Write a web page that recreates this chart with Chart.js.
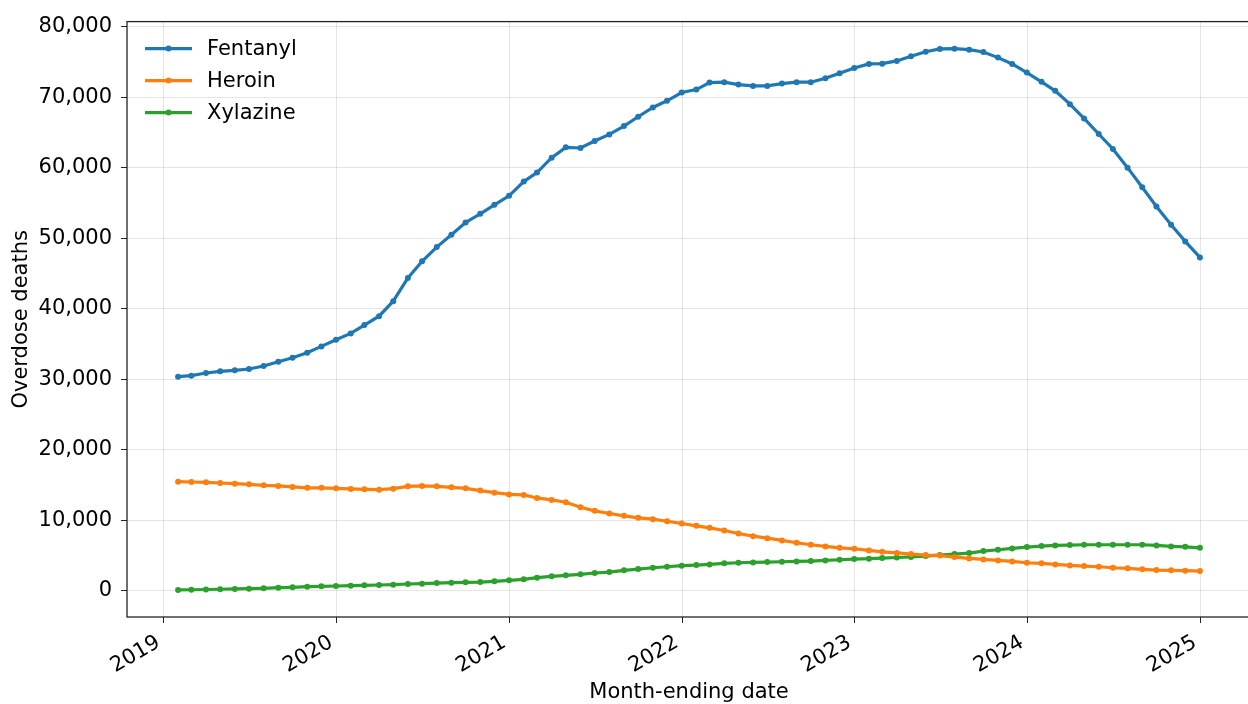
<!DOCTYPE html>
<html>
<head>
<meta charset="utf-8">
<script src="https://cdn.jsdelivr.net/npm/chart.js@4.4.1/dist/chart.umd.min.js"></script>
<style>
  html, body { margin: 0; padding: 0; background: #fff; overflow: hidden; }
  canvas { display: block; }
</style>
</head>
<body>
<canvas id="chart" width="1256" height="704"></canvas>
<script>
// monthly series, month-ending Jan 2019 .. Dec 2024
const firstYear = 2019;
const monthCount = 72;

const fentanyl = [
    30350, 30500, 30880, 31110, 31260, 31440, 31870, 32480, 33050, 33760, 34650, 35590,
    36490, 37670, 38940, 41060, 44360, 46720, 48740, 50490, 52230, 53460, 54740, 56010,
    58030, 59310, 61430, 62890, 62800, 63790, 64730, 65910, 67230, 68550, 69490, 70670,
    71090, 72080, 72130, 71800, 71600, 71600, 71940, 72130, 72130, 72700, 73400, 74150,
    74720, 74760, 75150, 75810, 76460, 76850, 76890, 76750, 76420, 75620, 74720, 73500,
    72180, 70910, 69020, 66990, 64780, 62660, 60010, 57230, 54500, 51910, 49550, 47280
];
const heroin = [
    15460, 15410, 15360, 15270, 15180, 15080, 14940, 14850, 14710, 14590, 14590, 14510,
    14430, 14370, 14330, 14470, 14800, 14850, 14800, 14660, 14510, 14190, 13900, 13650,
    13580, 13150, 12870, 12540, 11830, 11320, 10940, 10610, 10330, 10140, 9850, 9520,
    9190, 8910, 8530, 8110, 7730, 7450, 7120, 6790, 6510, 6270, 6080, 5940,
    5700, 5500, 5350, 5200, 5050, 4980, 4760, 4570, 4430, 4290, 4150, 3960,
    3870, 3720, 3580, 3490, 3390, 3250, 3160, 3020, 2920, 2880, 2830, 2780
];
const xylazine = [
    100, 130, 160, 200, 240, 280, 330, 420, 470, 560, 610, 660,
    710, 750, 800, 850, 940, 990, 1080, 1130, 1180, 1220, 1320, 1460,
    1600, 1840, 2030, 2170, 2310, 2500, 2640, 2880, 3060, 3250, 3390, 3540,
    3630, 3720, 3870, 3960, 4010, 4050, 4100, 4150, 4200, 4290, 4380, 4480,
    4530, 4620, 4700, 4780, 4900, 5050, 5190, 5330, 5610, 5800, 5990, 6180,
    6320, 6410, 6460, 6510, 6510, 6510, 6510, 6510, 6410, 6270, 6220, 6080
];

const seriesNames = ['Fentanyl', 'Heroin', 'Xylazine'];
const seriesColors = ['#1f77b4', '#ff7f0e', '#2ca02c'];
const yTicks = [0, 10000, 20000, 30000, 40000, 50000, 60000, 70000, 80000];
const yearTicks = [2019, 2020, 2021, 2022, 2023, 2024, 2025];

const DAY = 86400000;
const FONT = '"DejaVu Sans", Verdana, sans-serif';
const FONT_SIZE = 21;
const X_LABEL_ANGLE = 30 * Math.PI / 180;

// x values are days since epoch of each month end
const monthEnds = [];
for (let i = 0; i < monthCount; i++) {
    monthEnds.push(Date.UTC(firstYear, i + 1, 0) / DAY);
}

// matplotlib-like 5% margins
const xSpan = monthEnds[monthEnds.length - 1] - monthEnds[0];
const xMin = monthEnds[0] - xSpan * 0.05;
const xMax = monthEnds[monthEnds.length - 1] + xSpan * 0.05;
const allValues = fentanyl.concat(heroin, xylazine);
const yLo = Math.min(...allValues);
const yHi = Math.max(...allValues);
const yMin = yLo - (yHi - yLo) * 0.05;
const yMax = yHi + (yHi - yLo) * 0.05;

const seriesData = [fentanyl, heroin, xylazine];
const datasets = seriesData.map((values, i) => ({
    label: seriesNames[i],
    data: values.map((v, j) => ({ x: monthEnds[j], y: v })),
    borderColor: seriesColors[i],
    backgroundColor: seriesColors[i],
    pointBackgroundColor: seriesColors[i],
    borderWidth: 3.2,
    pointRadius: 3,
    pointBorderWidth: 0,
    tension: 0
}));

const frame = {
    id: 'frame',
    afterDraw(chart) {
        const { ctx, chartArea } = chart;
        ctx.save();
        ctx.strokeStyle = '#222';
        ctx.lineWidth = 1.3;
        ctx.strokeRect(chartArea.left, chartArea.top, chartArea.right - chartArea.left, chartArea.bottom - chartArea.top);
        ctx.restore();
    }
};

// rotated year labels, aligned like matplotlib (bbox right at tick, bbox top under tick mark)
const yearLabels = {
    id: 'yearLabels',
    afterDraw(chart) {
        const { ctx, chartArea } = chart;
        const xScale = chart.scales.x;
        const sin = Math.sin(X_LABEL_ANGLE), cos = Math.cos(X_LABEL_ANGLE);
        const boxH = FONT_SIZE * 1.164;
        const descent = FONT_SIZE * 0.236;
        const top = chartArea.bottom + 12;
        ctx.save();
        ctx.fillStyle = '#000';
        ctx.font = FONT_SIZE + 'px ' + FONT;
        ctx.textAlign = 'right';
        ctx.textBaseline = 'alphabetic';
        yearTicks.forEach(year => {
            const px = xScale.getPixelForValue(Date.UTC(year, 0, 1) / DAY);
            const bx = px - descent * sin;
            const by = top + boxH * cos - descent * cos;
            ctx.save();
            ctx.translate(bx, by);
            ctx.rotate(-X_LABEL_ANGLE);
            ctx.fillText(String(year), 0, 0);
            ctx.restore();
        });
        ctx.restore();
    }
};

const insideLegend = {
    id: 'insideLegend',
    afterDatasetsDraw(chart) {
        const { ctx, chartArea } = chart;
        ctx.save();
        chart.data.datasets.forEach((ds, i) => {
            const y = chartArea.top + 27 + i * 32;
            const x0 = chartArea.left + 18;
            ctx.strokeStyle = ds.borderColor;
            ctx.lineWidth = 3.2;
            ctx.beginPath();
            ctx.moveTo(x0, y);
            ctx.lineTo(x0 + 47, y);
            ctx.stroke();
            ctx.fillStyle = ds.borderColor;
            ctx.beginPath();
            ctx.arc(x0 + 23.5, y, 3, 0, Math.PI * 2);
            ctx.fill();
            ctx.fillStyle = '#000';
            ctx.font = FONT_SIZE + 'px ' + FONT;
            ctx.textBaseline = 'middle';
            ctx.fillText(ds.label, x0 + 62, y + 1);
        });
        ctx.restore();
    }
};

new Chart(document.getElementById('chart'), {
    type: 'line',
    data: { datasets: datasets },
    options: {
        responsive: false,
        animation: false,
        devicePixelRatio: 1,
        layout: { padding: { top: 20, right: 5, left: 0, bottom: 0 } },
        plugins: {
            legend: { display: false },
            tooltip: { enabled: false }
        },
        scales: {
            x: {
                type: 'linear',
                min: xMin,
                max: xMax,
                afterBuildTicks: scale => {
                    scale.ticks = yearTicks.map(y => ({ value: Date.UTC(y, 0, 1) / DAY }));
                },
                afterFit: scale => { scale.height = 87; },
                ticks: { display: false, autoSkip: false },
                grid: { color: 'rgba(0,0,0,0.1)', tickColor: '#222', tickLength: 6, lineWidth: 1 },
                border: { display: false },
                title: {
                    display: true,
                    text: 'Month-ending date',
                    color: '#000',
                    font: { family: FONT, size: FONT_SIZE, lineHeight: 1.1 },
                    padding: { top: 0, bottom: 0 }
                }
            },
            y: {
                min: yMin,
                max: yMax,
                afterBuildTicks: scale => {
                    scale.ticks = yTicks.map(v => ({ value: v }));
                },
                afterFit: scale => { scale.width = 127; },
                ticks: {
                    padding: 9,
                    color: '#000',
                    font: { family: FONT, size: FONT_SIZE },
                    callback: value => value.toLocaleString('en-US')
                },
                grid: { color: 'rgba(0,0,0,0.1)', tickColor: '#222', tickLength: 6, lineWidth: 1 },
                border: { display: false },
                title: {
                    display: true,
                    text: 'Overdose deaths',
                    color: '#000',
                    font: { family: FONT, size: FONT_SIZE, lineHeight: 1.2 },
                    padding: { top: 9, bottom: 0 }
                }
            }
        }
    },
    plugins: [frame, yearLabels, insideLegend]
});
</script>
</body>
</html>
